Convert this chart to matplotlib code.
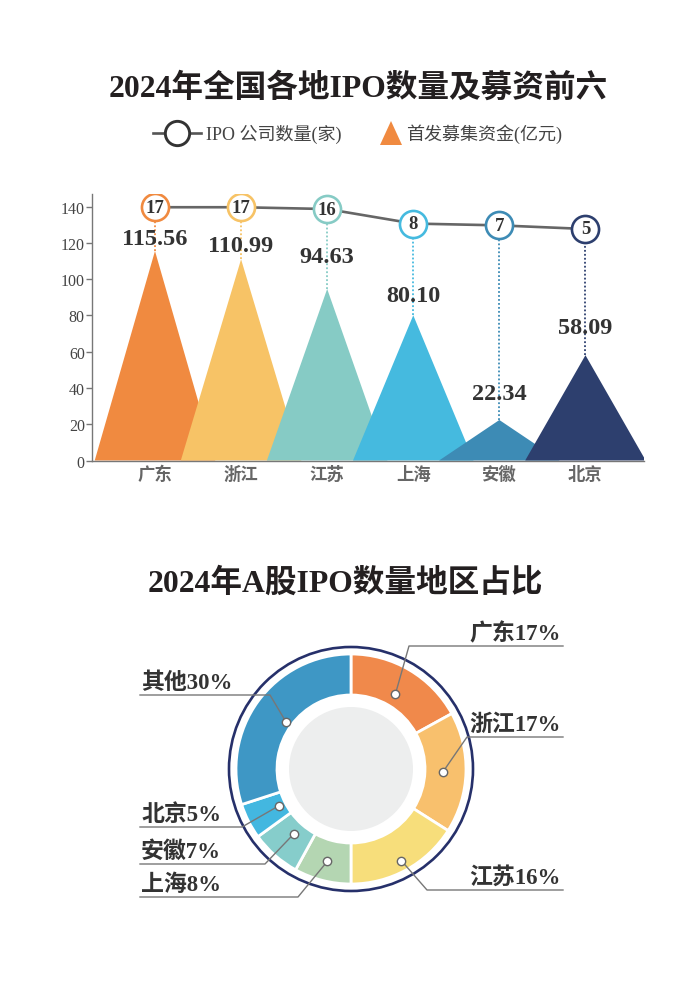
import matplotlib
matplotlib.use("Agg")
import matplotlib.pyplot as plt
import numpy as np
from matplotlib.patches import Circle, Polygon

FAM = ['Liberation Serif', 'Noto Sans CJK SC', 'DejaVu Sans']
plt.rcParams['font.family'] = FAM

# ---------------- data ----------------
regions = ['广东', '浙江', '江苏', '上海', '安徽', '北京']
funds = [115.56, 110.99, 94.63, 80.10, 22.34, 58.09]
counts = [17, 17, 16, 8, 7, 5]
yticks = [0, 20, 40, 60, 80, 100, 120, 140]

share_names = ['广东', '浙江', '江苏', '上海', '安徽', '北京', '其他']
shares = [17, 17, 16, 8, 7, 5, 30]

title1 = '2024年全国各地IPO数量及募资前六'
title2 = '2024年A股IPO数量地区占比'
legend_line = 'IPO 公司数量(家)'
legend_tri = '首发募集资金(亿元)'

# ---------------- styles / layout ----------------
tri_colors = ['#F08A40', '#F7C366', '#86CBC5', '#45BADF', '#3D8BB5', '#2D3F6E']
pie_colors = ['#F0894B', '#F8C06D', '#F7DE7B', '#B4D6B2', '#86CDCB', '#43B7E0', '#3E97C5']
label_gap_px = [12, 14, 32, 20, 26, 28]
half_w = 0.70
YMAX = 147
OFFSET = 122.7   # shift of the decorative count axis

W, H = 690, 987
fig = plt.figure(figsize=(W / 100, H / 100), dpi=100)
fig.patch.set_facecolor('white')

def fax(l, t, r, b):
    return [l / W, (H - b) / H, (r - l) / W, (b - t) / H]

# ---------------- top chart ----------------
ax = fig.add_axes(fax(91.7, 195, 644, 461.5))
ax.set_xlim(-0.735, 5.68)
ax.set_ylim(0, YMAX)
ax.patch.set_alpha(0)
for s in ['top', 'right']:
    ax.spines[s].set_visible(False)
for s in ['left', 'bottom']:
    ax.spines[s].set_color('#777777')
    ax.spines[s].set_linewidth(1.0)
ax.set_yticks(yticks)
ax.set_yticklabels([str(v) for v in yticks], fontsize=11.5, color='#444444',
                   family=FAM)
ax.tick_params(axis='y', length=4, width=1, color='#777777', pad=1)
ax.set_xticks(range(len(regions)))
ax.set_xticklabels(regions, fontsize=12.5, color='#666666', fontweight='bold',
                   family=['Noto Sans CJK SC'])
ax.tick_params(axis='x', length=0, pad=3)

for i, (v, c) in enumerate(zip(funds, tri_colors)):
    ax.add_patch(Polygon([[i - half_w, 0], [i, v], [i + half_w, 0]],
                         closed=True, facecolor=c, edgecolor='none', zorder=2 + i * 0.01))

ax2 = ax.twinx()
ax2.set_ylim(0 - OFFSET, YMAX - OFFSET)
ax2.axis('off')
xs = np.arange(len(counts))
ax2.plot(xs, counts, color='#666666', lw=1.9, zorder=3, solid_capstyle='butt')
for i, (n, v, c) in enumerate(zip(counts, funds, tri_colors)):
    ax2.plot([i, i], [v - OFFSET, n], ls=(0, (1, 1.2)), color=c, lw=1.3, zorder=2)
    ax2.plot([i], [n], marker='o', ms=19.5, mfc='white', mec=c, mew=1.9, zorder=4)
    ax2.text(i, n, str(n), ha='center', va='center', fontsize=13.5,
             fontweight='bold', color='#333333', zorder=5)
    ax2.annotate(f'{v:.2f}', xy=(i, v - OFFSET), xytext=(0, label_gap_px[i] * 0.72),
                 textcoords='offset points', ha='center', va='center',
                 fontsize=17.5, fontweight='bold', color='#333333', zorder=6)

# ---------------- overlay for titles / legend ----------------
ov = fig.add_axes([0, 0, 1, 1])
ov.set_xlim(0, W)
ov.set_ylim(H, 0)
ov.axis('off')
ov.patch.set_alpha(0)

ov.text(358, 88, title1, ha='center', va='center', fontsize=22.8,
        fontweight='bold', color='#231F20')
ov.text(345, 583, title2, ha='center', va='center', fontsize=22.8,
        fontweight='bold', color='#231F20')

# legend: line with circle
ov.plot([153, 201], [134, 134], color='#555555', lw=1.9)
ov.plot([177], [134], marker='o', ms=17.5, mfc='white', mec='#333333', mew=2.1)
ov.text(206, 134, legend_line, ha='left', va='center', fontsize=13,
        color='#444444')
ov.add_patch(Polygon([[380, 146], [391, 122], [402, 146]], closed=True,
                     facecolor=tri_colors[0], edgecolor='none'))
ov.text(406, 134, legend_tri, ha='left', va='center', fontsize=13,
        color='#444444')

# ---------------- donut ----------------
CX, CY = 351, 770
L, T, R, B = 100, 610, 600, 930
pax = fig.add_axes(fax(L, T, R, B))
R_OUT, R_IN = 115, 74
wedges, _ = pax.pie(shares, colors=pie_colors, startangle=90, counterclock=False,
                    radius=R_OUT,
                    wedgeprops=dict(width=R_OUT - R_IN, edgecolor='white', linewidth=2))
pax.set_xlim(L - CX, R - CX)
pax.set_ylim(CY - B, CY - T)
pax.set_aspect('equal')
pax.axis('off')
pax.add_patch(Circle((0, 0), 62, facecolor='#EDEEEE', edgecolor='none', zorder=3))
pax.add_patch(Circle((0, 0), 122, facecolor='none', edgecolor='#26306A', lw=1.9, zorder=3))

dot_r = [0.76, 0.80, 0.91, 0.83, 0.75, 0.70, 0.70]
elbows = [(58, 123), (116, 32), (76, -121), (-53, -128), (-86, -95), (-109, -58), (-81, 74)]
right_side = [True, True, True, False, False, False, False]
total = sum(shares)
start = 90.0
for k, (name, s) in enumerate(zip(share_names, shares)):
    ang = start - 360.0 * s / total / 2
    start -= 360.0 * s / total
    a = np.deg2rad(ang)
    dx, dy = R_OUT * dot_r[k] * np.cos(a), R_OUT * dot_r[k] * np.sin(a)
    ex, ey = elbows[k]
    endx = 212 if right_side[k] else -211
    pax.plot([dx, ex, endx], [dy, ey, ey], color='#777777', lw=1.0, zorder=4)
    pax.plot([dx], [dy], marker='o', ms=6, mfc='white', mec='#666666', mew=1, zorder=5)
    pax.text(endx - 2 if right_side[k] else endx + 1, ey + 2, f'{name}{s}%',
             ha='right' if right_side[k] else 'left', va='bottom',
             fontsize=16.5, fontweight='bold', color='#333333', zorder=5)

fig.savefig('out.png', dpi=100, facecolor='white')
